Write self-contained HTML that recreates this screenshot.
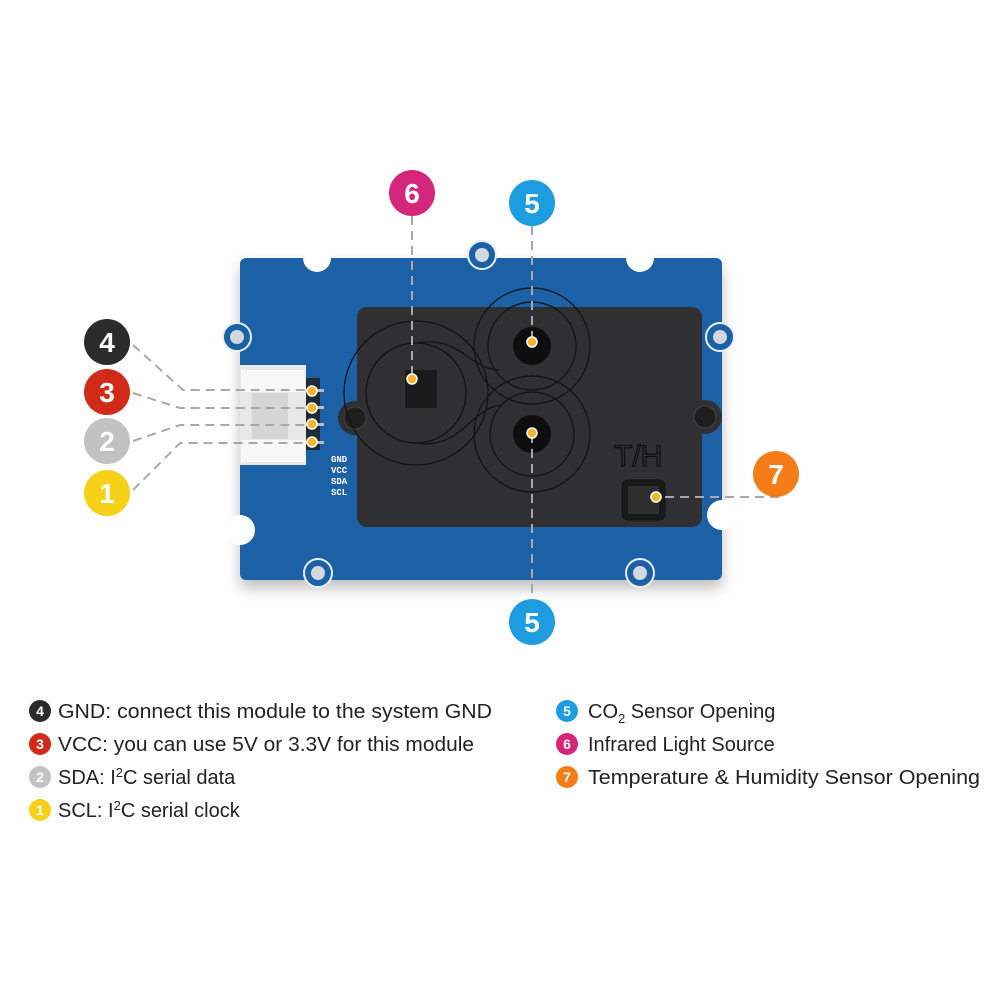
<!DOCTYPE html>
<html><head><meta charset="utf-8"><style>body{margin:0;background:#fff}svg{display:block}</style></head>
<body>
<svg width="1000" height="1000" viewBox="0 0 1000 1000" xmlns="http://www.w3.org/2000/svg" font-family="Liberation Sans, sans-serif">
<defs><filter id="sh" x="-10%" y="-10%" width="120%" height="130%"><feDropShadow dx="0" dy="8" stdDeviation="7" flood-color="#000" flood-opacity="0.25"/></filter></defs>
<!-- board -->
<g filter="url(#sh)">
<rect x="240" y="258" width="482" height="322" rx="6" fill="#1b61a6"/>
</g>
<!-- notches -->
<g fill="#fff">
<circle cx="317" cy="258" r="14"/><circle cx="640" cy="258" r="14"/>
<circle cx="240" cy="530" r="15"/><circle cx="722" cy="515" r="15"/>
</g>
<!-- mounting holes -->
<g>
<circle cx="482" cy="255" r="14" fill="#1b61a6" stroke="#e8eef5" stroke-width="2"/><circle cx="482" cy="255" r="7" fill="#d2d8dd"/>
<circle cx="237" cy="337" r="14" fill="#1b61a6" stroke="#e8eef5" stroke-width="2"/><circle cx="237" cy="337" r="7" fill="#d2d8dd"/>
<circle cx="720" cy="337" r="14" fill="#1b61a6" stroke="#e8eef5" stroke-width="2"/><circle cx="720" cy="337" r="7" fill="#d2d8dd"/>
<circle cx="318" cy="573" r="14" fill="#1b61a6" stroke="#e8eef5" stroke-width="2"/><circle cx="318" cy="573" r="7" fill="#d2d8dd"/>
<circle cx="640" cy="573" r="14" fill="#1b61a6" stroke="#e8eef5" stroke-width="2"/><circle cx="640" cy="573" r="7" fill="#d2d8dd"/>
</g>
<!-- connector -->
<rect x="240" y="365" width="66" height="100" fill="#e8e8e4"/>
<rect x="241" y="370" width="64" height="22" fill="#f7f7f5"/>
<rect x="241" y="440" width="64" height="22" fill="#f7f7f5"/>
<rect x="252" y="393" width="36" height="46" fill="#d6d6d2"/>
<rect x="306" y="378" width="14" height="72" fill="#1e2a36"/>
<g fill="#bbb"><rect x="306" y="389" width="18" height="3"/><rect x="306" y="406" width="18" height="3"/><rect x="306" y="423" width="18" height="3"/><rect x="306" y="441" width="18" height="3"/></g>
<g fill="#fff" font-size="9" font-weight="bold" font-family="Liberation Mono, monospace"><text x="331" y="462">GND</text><text x="331" y="473">VCC</text><text x="331" y="484">SDA</text><text x="331" y="495">SCL</text></g>
<!-- cover -->
<rect x="357" y="307" width="345" height="220" rx="10" fill="#303032"/>
<circle cx="355" cy="418" r="17" fill="#303032"/><circle cx="705" cy="417" r="17" fill="#303032"/>
<circle cx="355" cy="418" r="11" fill="#1e1e1e" stroke="#444"/><circle cx="705" cy="417" r="11" fill="#1e1e1e" stroke="#444"/>
<g fill="none" stroke="#111" stroke-width="1.2">
<circle cx="416" cy="393" r="50"/><circle cx="532" cy="346" r="44"/><circle cx="532" cy="434" r="42"/>
<circle cx="532" cy="346" r="58"/><circle cx="532" cy="434" r="58"/><circle cx="416" cy="393" r="72"/>
<path d="M416 343 C460 335 470 370 500 370 M416 443 C460 450 470 410 500 405"/>
</g>
<rect x="405" y="370" width="32" height="38" fill="#1a1a1a"/>
<circle cx="532" cy="346" r="19" fill="#0e0e0e"/><circle cx="532" cy="434" r="19" fill="#0e0e0e"/>
<text x="614" y="466" font-size="30" fill="none" stroke="#111" stroke-width="1.3">T/H</text>
<rect x="622" y="480" width="43" height="40" rx="6" fill="#1a1a1a" stroke="#111"/>
<rect x="628" y="486" width="31" height="28" fill="#2e2e2e"/>
<!-- dashed lines -->
<g fill="none" stroke="#a8a8a8" stroke-width="2" stroke-dasharray="9,6">
<path d="M412 216 V382"/><path d="M532 226 V343"/><path d="M532 434 V598"/><path d="M650 497 H782"/>
<path d="M133 345 L183 390 H312"/><path d="M133 393 L180 408 H312"/><path d="M133 441 L180 425 H312"/><path d="M133 490 L180 443 H312"/>
</g>
<!-- yellow dots -->
<g fill="#f5b52a" stroke="#fff" stroke-width="1.5">
<circle cx="312" cy="391" r="5"/><circle cx="312" cy="408" r="5"/><circle cx="312" cy="424" r="5"/><circle cx="312" cy="442" r="5"/>
<circle cx="412" cy="379" r="5"/><circle cx="532" cy="342" r="5"/><circle cx="532" cy="433" r="5"/><circle cx="656" cy="497" r="5"/>
</g>
<!-- bubbles -->
<g font-size="28" font-weight="bold" fill="#fff" text-anchor="middle">
<circle cx="412" cy="193" r="23" fill="#d4267a"/><text x="412" y="203">6</text>
<circle cx="532" cy="203" r="23" fill="#1e9ce0"/><text x="532" y="213">5</text>
<circle cx="532" cy="622" r="23" fill="#1e9ce0"/><text x="532" y="632">5</text>
<circle cx="776" cy="474" r="23" fill="#f47d18"/><text x="776" y="484">7</text>
<circle cx="107" cy="342" r="23" fill="#2b2b2b"/><text x="107" y="352">4</text>
<circle cx="107" cy="392" r="23" fill="#d22a18"/><text x="107" y="402">3</text>
<circle cx="107" cy="441" r="23" fill="#c2c2c2"/><text x="107" y="451">2</text>
<circle cx="107" cy="493" r="23" fill="#f6d118"/><text x="107" y="503">1</text>
</g>
<!-- legend -->
<g font-size="14" font-weight="bold" fill="#fff" text-anchor="middle">
<circle cx="40" cy="711" r="11" fill="#2b2b2b"/><text x="40" y="716">4</text>
<circle cx="40" cy="744" r="11" fill="#d22a18"/><text x="40" y="749">3</text>
<circle cx="40" cy="777" r="11" fill="#c2c2c2"/><text x="40" y="782">2</text>
<circle cx="40" cy="810" r="11" fill="#f6d118"/><text x="40" y="815">1</text>
<circle cx="567" cy="711" r="11" fill="#1e9ce0"/><text x="567" y="716">5</text>
<circle cx="567" cy="744" r="11" fill="#d4267a"/><text x="567" y="749">6</text>
<circle cx="567" cy="777" r="11" fill="#f47d18"/><text x="567" y="782">7</text>
</g>
<g font-size="20" fill="#222">
<text x="58" y="718" textLength="434" lengthAdjust="spacingAndGlyphs">GND: connect this module to the system GND</text>
<text x="58" y="751" textLength="416" lengthAdjust="spacingAndGlyphs">VCC: you can use 5V or 3.3V for this module</text>
<text x="58" y="784">SDA: I<tspan font-size="13" dy="-7">2</tspan><tspan dy="7">C serial data</tspan></text>
<text x="58" y="817">SCL:  I<tspan font-size="13" dy="-7">2</tspan><tspan dy="7">C serial clock</tspan></text>
<text x="588" y="718">CO<tspan font-size="13" dy="5">2</tspan><tspan dy="-5"> Sensor Opening</tspan></text>
<text x="588" y="751">Infrared Light Source</text>
<text x="588" y="784" textLength="392" lengthAdjust="spacingAndGlyphs">Temperature &amp; Humidity Sensor Opening</text>
</g>
</svg>
</body></html>
